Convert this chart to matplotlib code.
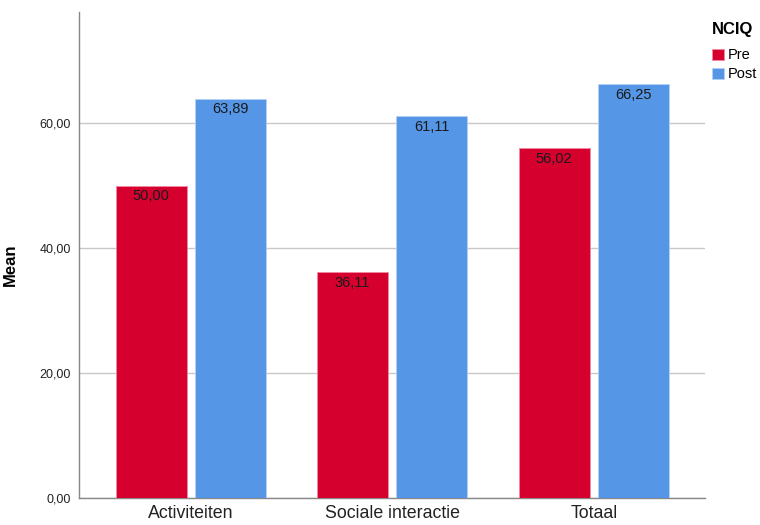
import numpy as np
import matplotlib.pyplot as plt

plt.rcParams['font.family'] = ['Liberation Sans', 'DejaVu Sans']

categories = ['Activiteiten', 'Sociale interactie', 'Totaal']
pre = [50.00, 36.11, 56.02]
post = [63.89, 61.11, 66.25]
yticks = [0, 20, 40, 60]

red = '#d6002f'
blue = '#5597e6'

fig = plt.figure(figsize=(7.6, 5.25), dpi=100)
ax = fig.add_axes([0.104, 0.0514, 0.824, 0.926])

x = np.arange(len(categories))
w = 0.352
off = 0.196
b1 = ax.bar(x - off, pre, w, color=red, edgecolor='#f08aa0', linewidth=0.6, zorder=3, label='Pre')
b2 = ax.bar(x + off, post, w, color=blue, edgecolor='#b5d2f5', linewidth=0.6, zorder=3, label='Post')

def fmt(v):
    return f'{v:.2f}'.replace('.', ',')

for bars, vals in ((b1, pre), (b2, post)):
    for r, v in zip(bars, vals):
        ax.text(r.get_x() + r.get_width() / 2, v - 1.7, fmt(v), ha='center', va='center',
                fontsize=10.5, color='#1a1a1a', zorder=4)

ax.set_xlim(-0.553, 2.553)
ax.set_ylim(0, 77.8)
ax.set_yticks(yticks)
ax.set_yticklabels([fmt(t) for t in yticks], fontsize=9, color='#222222')
ax.set_xticks(x)
ax.set_xticklabels(categories, fontsize=12.8, color='#222222')
ax.tick_params(axis='x', length=0, pad=5)
ax.tick_params(axis='y', length=0, pad=6)
ax.yaxis.grid(True, color='#c8c8c8', linewidth=1, zorder=0)
for s in ('top', 'right'):
    ax.spines[s].set_visible(False)
for s in ('left', 'bottom'):
    ax.spines[s].set_color('#888888')
    ax.spines[s].set_linewidth(1)
ax.set_ylabel('Mean', fontsize=12, fontweight='bold')
ax.yaxis.set_label_coords(-0.098, 0.48)

leg = fig.legend(handles=[b1, b2], labels=['Pre', 'Post'], title='NCIQ',
                 loc='upper left', bbox_to_anchor=(0.937, 0.958), frameon=False,
                 fontsize=10.5, title_fontproperties={'weight': 'bold', 'size': 12},
                 handlelength=0.8, handleheight=0.8, handletextpad=0.25,
                 labelspacing=0.35, borderaxespad=0, borderpad=0)
leg._legend_box.align = 'left'
leg._legend_box.sep = 8

fig.savefig('out.png', dpi=100)
